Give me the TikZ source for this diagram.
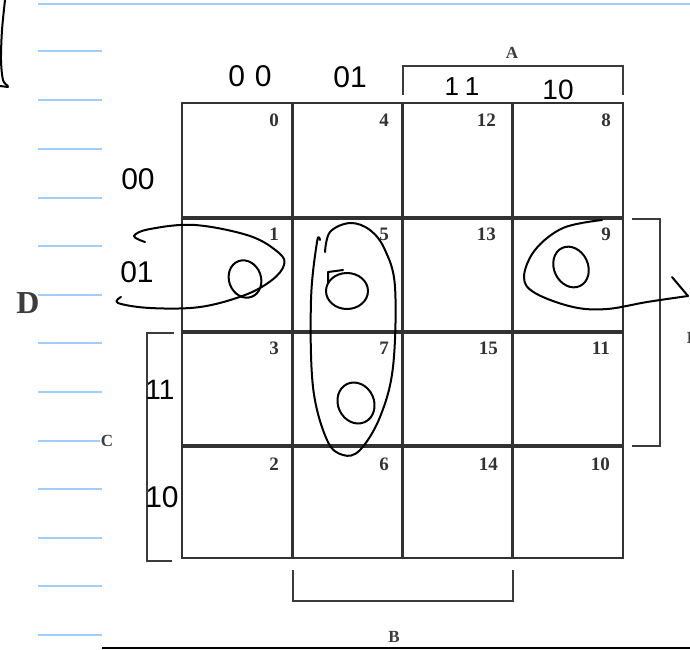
\documentclass[tikz,border=0pt]{standalone}
\usepackage{fontspec}
\newfontfamily\numfont{Liberation Serif}
\newfontfamily\handfont{Liberation Sans}
\definecolor{noteblue}{RGB}{160,205,250}
\definecolor{gridgray}{RGB}{50,50,50}
\definecolor{brgray}{RGB}{60,60,60}
\begin{document}
\begin{tikzpicture}[x=1pt,y=-1pt,
  blueline/.style={draw=noteblue,line width=2pt},
  inner/.style={draw=gridgray,line width=3.5pt},
  outer/.style={draw=gridgray,line width=2.5pt},
  bracket/.style={draw=brgray,line width=1.6pt},
  hand/.style={draw=black,line width=2pt,line cap=round,line join=round},
  cellnum/.style={anchor=east,inner sep=0pt,font=\numfont\bfseries\fontsize{19}{19}\selectfont,text=gridgray},
  varlab/.style={inner sep=0pt,font=\numfont\bfseries\fontsize{17}{17}\selectfont,text=brgray},
  handtxt/.style={inner sep=0pt,font=\handfont\fontsize{30}{30}\selectfont}]
\useasboundingbox (0,0) rectangle (690,649);
\fill[white] (0,0) rectangle (690,649);
% notebook lines
\draw[blueline] (38,3.5) -- (690,3.5);
\foreach \yy in {51,100,148.5,197.5,246,295,343,392,440.5,489,538,586,634.5}
  \draw[blueline] (38,\yy) -- (102,\yy);
\draw[black,line width=2pt] (102,648) -- (690,648);
% top-left stroke
\draw[hand] plot[smooth] coordinates {(5,0) (2,30) (1,60) (3,80) (8,86)};
\draw[hand] (0,86) -- (8,87);
% grid
\foreach \xx in {292.5,402.5,512.5} \draw[inner] (\xx,103) -- (\xx,558);
\foreach \yy in {218,332,446} \draw[inner] (182,\yy) -- (623,\yy);
\draw[outer] (182,103) rectangle (623,558);
% cell numbers
\node[cellnum] (n0) at (279,120) {0};
\node[cellnum] (n4) at (389,120) {4};
\node[cellnum] (n12) at (496,120) {12};
\node[cellnum] (n8) at (611,120) {8};
\node[cellnum] (n1) at (279,234) {1};
\node[cellnum] (n5) at (389,234) {5};
\node[cellnum] (n13) at (496,234) {13};
\node[cellnum] (n9) at (611,234) {9};
\node[cellnum] (n3) at (279,348) {3};
\node[cellnum] (n7) at (389,348) {7};
\node[cellnum] (n15) at (498,348) {15};
\node[cellnum] (n11) at (610,348) {11};
\node[cellnum] (n2) at (279,464) {2};
\node[cellnum] (n6) at (389,464) {6};
\node[cellnum] (n14) at (498,464) {14};
\node[cellnum] (n10) at (610,464) {10};
% brackets
\draw[bracket] (403,95) -- (403,66) -- (623,66) -- (623,95);
\node[varlab] (labA) at (512,53) {A};
\draw[bracket] (293,570) -- (293,601) -- (513,601) -- (513,570);
\node[varlab] (labB) at (394,637) {B};
\draw[bracket] (174,333) -- (147,333) -- (147,561) -- (172,561);
\node[varlab,fill=white,inner sep=0.5pt] (labC) at (107,441) {C};
\draw[bracket] (632,219) -- (660,219) -- (660,446) -- (632,446);
\node[inner sep=0pt,font=\numfont\bfseries\fontsize{32}{32}\selectfont,text=brgray] (labDl) at (28,303) {D};
\node[varlab] (labDr) at (693,338) {D};
% handwritten labels
\node[handtxt] (h00t) at (250,76) {0\hspace{10pt}0};
\node[handtxt] (h01t) at (350,77) {01};
\node[handtxt,font=\handfont\fontsize{26}{26}\selectfont] (h11t) at (462,87) {1\hspace{6pt}1};
\node[handtxt,font=\handfont\fontsize{28}{28}\selectfont] (h10t) at (558,90) {10};
\node[handtxt] (h00l) at (138,179) {00};
\node[handtxt] (h01l) at (137,272) {01};
\node[handtxt,font=\handfont\fontsize{28}{28}\selectfont] (h11l) at (160,390) {11};
\node[handtxt] (h10l) at (162,497) {10};
% loops
\draw[hand] plot[smooth,tension=0.6] coordinates {(145,242) (134,236) (150,229) (195,225) (250,236) (279,253) (284,265) (272,280) (245,295) (200,307) (150,308) (118,303) (121,297)};
\draw[hand] plot[smooth,tension=0.6] coordinates {(325,252) (330,232) (350,223) (370,230) (385,250) (395,287) (393,367) (380,417) (360,450) (343,455) (327,440) (313,387) (311,300) (317,242) (320,240)};
\draw[hand] plot[smooth,tension=0.6] coordinates {(602,220) (563,228) (535,250) (524,277) (535,293) (573,307) (607,309) (647,302) (688,296)};
\draw[hand] (688,296) -- (672,277);
% zeros inside loops
\draw[hand] (245,279) ellipse[x radius=16,y radius=19,rotate=20];
\draw[hand] (347,291) ellipse[x radius=21,y radius=18];
\draw[hand] (328,283) -- (328,272) -- (343,270);
\draw[hand] (356,403) ellipse[x radius=18,y radius=21,rotate=25];
\draw[hand] (571,267) ellipse[x radius=17,y radius=21,rotate=25];
\end{tikzpicture}
\end{document}
